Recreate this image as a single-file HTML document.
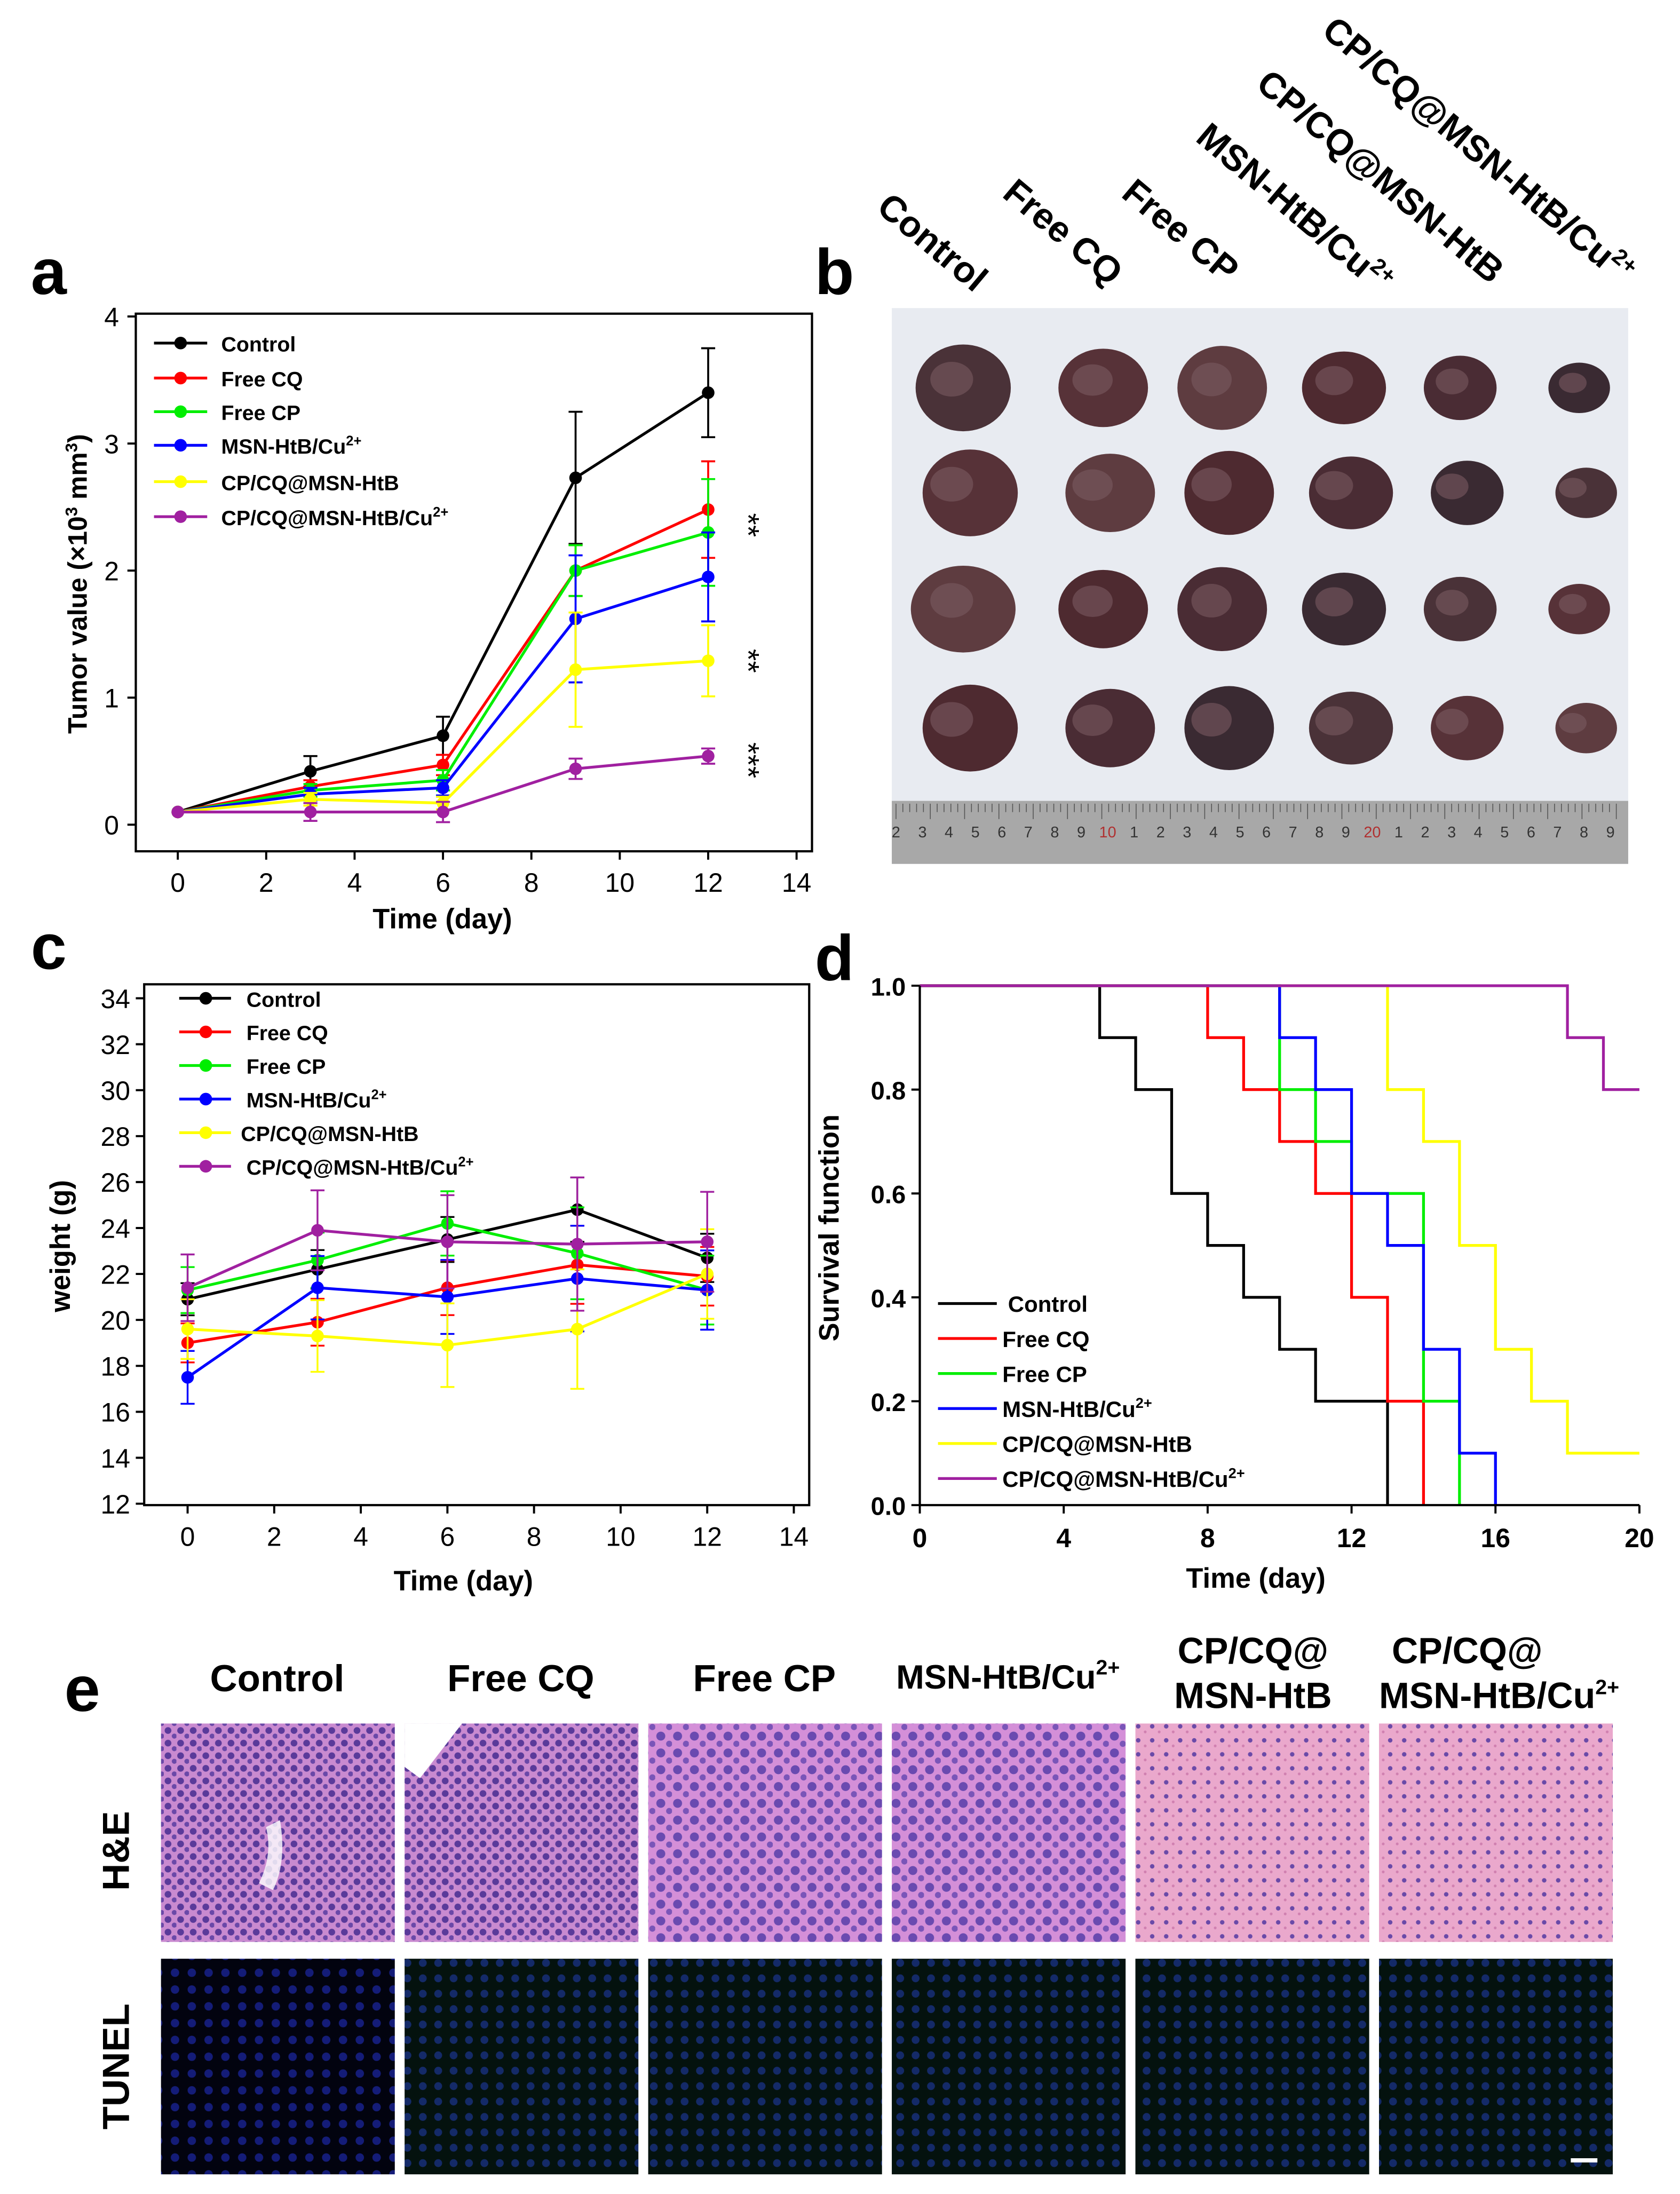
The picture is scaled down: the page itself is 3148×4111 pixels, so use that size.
<!DOCTYPE html>
<html><head><meta charset="utf-8">
<style>
html,body{margin:0;padding:0;background:#fff;}
svg{display:block;font-family:"Liberation Sans",Arial,sans-serif;}
</style></head>
<body>
<svg id="fig" width="3148" height="4111" viewBox="0 0 1200 1567" xmlns="http://www.w3.org/2000/svg">
<defs>
<pattern id="he1" width="9" height="9" patternUnits="userSpaceOnUse"><rect width="9" height="9" fill="#c98ad0"/><circle cx="3" cy="3" r="2.4" fill="#5a3a9a"/><circle cx="7.5" cy="7" r="1.8" fill="#6a48a8"/></pattern>
<pattern id="he2" width="12" height="12" patternUnits="userSpaceOnUse"><rect width="12" height="12" fill="#d48fd8"/><circle cx="4" cy="4" r="3.2" fill="#6a4ab0"/><circle cx="10" cy="9.5" r="2.2" fill="#7a55b8"/></pattern>
<pattern id="he3" width="10" height="10" patternUnits="userSpaceOnUse"><rect width="10" height="10" fill="#eaa8cc"/><circle cx="3" cy="3" r="1.6" fill="#6a4aa8"/><circle cx="8" cy="7" r="1" fill="#d080b0"/></pattern>
<pattern id="tn1" width="12" height="12" patternUnits="userSpaceOnUse"><rect width="12" height="12" fill="#02030f"/><circle cx="5" cy="5" r="3" fill="#141c78"/></pattern>
<pattern id="tn2" width="11" height="11" patternUnits="userSpaceOnUse"><rect width="11" height="11" fill="#04120e"/><circle cx="5" cy="5" r="2.8" fill="#142a68"/></pattern>
</defs>
</svg>
<script>
const NS='http://www.w3.org/2000/svg';
const svg=document.getElementById('fig');
function mk(tag,at,parent){const e=document.createElementNS(NS,tag);for(const k in at)e.setAttribute(k,at[k]);(parent||svg).appendChild(e);return e;}
function tx(s,x,y,size,parent,extra){const e=mk('text',Object.assign({x:x,y:y,'font-size':size,'font-weight':'bold',fill:'#000'},extra||{}),parent);e.textContent=s;return e;}

// ===== Panel a data =====
const aDays=[0,3,6,9,12];
const aNames=['Control','Free CQ','Free CP','MSN-HtB/Cu2+','CP/CQ@MSN-HtB','CP/CQ@MSN-HtB/Cu2+'];
const aColors=['#000000','#ff0000','#00ee00','#0000ff','#ffff00','#a020a0'];
const aControl=[0.1,0.42,0.7,2.73,3.4];
const aFreeCQ=[0.1,0.3,0.47,2.0,2.48];
const aFreeCP=[0.1,0.27,0.35,2.0,2.3];
const aMSN=[0.1,0.24,0.29,1.62,1.95];
const aCPCQ=[0.1,0.2,0.17,1.22,1.29];
const aFull=[0.1,0.1,0.1,0.44,0.54];
const aErrControl=[0,0.12,0.15,0.52,0.35];
const aErrFreeCQ=[0,0.05,0.08,0.2,0.38];
const aErrFreeCP=[0,0.05,0.08,0.2,0.42];
const aErrMSN=[0,0.05,0.06,0.5,0.35];
const aErrCPCQ=[0,0.05,0.05,0.45,0.28];
const aErrFull=[0,0.07,0.08,0.08,0.06];
const aYTicks=[0,1,2,3,4];
const aXTicks=[0,2,4,6,8,10,12,14];

// ===== Panel c data =====
const cControl=[20.9,22.2,23.5,24.8,22.7];
const cFreeCQ=[19.0,19.9,21.4,22.4,21.9];
const cFreeCP=[21.3,22.6,24.2,22.9,21.3];
const cMSN=[17.5,21.4,21.0,21.8,21.3];
const cCPCQ=[19.6,19.3,18.9,19.6,22.0];
const cFull=[21.4,23.9,23.4,23.3,23.4];
const cErr=[1.0,1.2,1.4,2.0,1.5];
const cYTicks=[12,14,16,18,20,22,24,26,28,30,32,34];

// ===== Panel d data (step times, survival) =====
const dControlT=[0,5,6,7,8,9,10,11,13];
const dControlS=[1,0.9,0.8,0.6,0.5,0.4,0.3,0.2,0];
const dFreeCQT=[0,8,9,10,11,12,13,14];
const dFreeCQS=[1,0.9,0.8,0.7,0.6,0.4,0.2,0];
const dFreeCPT=[0,10,11,12,14,15];
const dFreeCPS=[1,0.8,0.7,0.6,0.2,0];
const dMSNT=[0,10,11,12,13,14,15,16];
const dMSNS=[1,0.9,0.8,0.6,0.5,0.3,0.1,0];
const dCPCQT=[0,13,14,15,16,17,18,20];
const dCPCQS=[1,0.8,0.7,0.5,0.3,0.2,0.1,0.1];
const dFullT=[0,18,19,20];
const dFullS=[1,0.9,0.8,0.8];
const dXTicks=[0,4,8,12,16,20];
const dYTicks=[0,0.2,0.4,0.6,0.8,1.0];

function legendText(g,name,x,y,size){
  const t=mk('text',{x:x,y:y,'font-size':size,'font-weight':'bold'},g);
  if(name.endsWith('2+')){t.textContent=name.slice(0,-2);const s=mk('tspan',{'font-size':size*0.65,dy:-size*0.4},t);s.textContent='2+';}
  else t.textContent=name;
  return t;
}

// ---------- Panel a ----------
(function(){
const g=mk('g',{});


const L=97,R=580,T=226,B=608;
const X=d=>127+d*31.57, Y=v=>589-v*90.75;
const fr=mk('rect',{x:L,y:T-2,width:R-L,height:B-T+2,fill:'none',stroke:'#000','stroke-width':1.6},g);

aYTicks.forEach(v=>{mk('line',{x1:L,x2:L-6,y1:Y(v),y2:Y(v),stroke:'#000','stroke-width':1.5},g);
 const t=tx(String(v),L-12,Y(v)+7,19,g,{'text-anchor':'end','font-weight':'normal'});
 });
aXTicks.forEach(v=>{mk('line',{x1:X(v),x2:X(v),y1:B,y2:B+6,stroke:'#000','stroke-width':1.5},g);
 const t=tx(String(v),X(v),B+29,19,g,{'text-anchor':'middle','font-weight':'normal'});
 });
const xl=tx('Time (day)',316,663,20,g,{'text-anchor':'middle'});

const yl=mk('text',{x:0,y:0,'font-size':19,'font-weight':'bold','text-anchor':'middle',transform:'translate(62,417) rotate(-90)'},g);
yl.textContent='Tumor value (×10';const s1=mk('tspan',{'font-size':12,dy:-7},yl);s1.textContent='3';const s2=mk('tspan',{dy:7},yl);s2.textContent=' mm';const s3=mk('tspan',{'font-size':12,dy:-7},yl);s3.textContent='3';const s4=mk('tspan',{dy:7},yl);s4.textContent=')';

const series=[aControl,aFreeCQ,aFreeCP,aMSN,aCPCQ,aFull];
const errs=[aErrControl,aErrFreeCQ,aErrFreeCP,aErrMSN,aErrCPCQ,aErrFull];
series.forEach((s,i)=>{
 const sg=mk('g',{},g);
 
 
 s.forEach((v,j)=>{const e=errs[i][j];if(e>0){
  mk('line',{x1:X(aDays[j]),x2:X(aDays[j]),y1:Y(v-e),y2:Y(v+e),stroke:aColors[i],'stroke-width':1.4},sg);
  mk('line',{x1:X(aDays[j])-5,x2:X(aDays[j])+5,y1:Y(v+e),y2:Y(v+e),stroke:aColors[i],'stroke-width':1.4},sg);
  mk('line',{x1:X(aDays[j])-5,x2:X(aDays[j])+5,y1:Y(v-e),y2:Y(v-e),stroke:aColors[i],'stroke-width':1.4},sg);}});
 mk('polyline',{points:s.map((v,j)=>X(aDays[j])+','+Y(v)).join(' '),fill:'none',stroke:aColors[i],'stroke-width':2},sg);
 s.forEach((v,j)=>{const c=mk('circle',{cx:X(aDays[j]),cy:Y(v),r:4.5,fill:aColors[i]},sg);
  });
});
const lg=mk('g',{},g);
const ly=[245,270,294,318,344,369];
aNames.forEach((n,i)=>{mk('line',{x1:110,x2:148,y1:ly[i],y2:ly[i],stroke:aColors[i],'stroke-width':2},lg);
 mk('circle',{cx:129,cy:ly[i],r:4.5,fill:aColors[i]},lg);
 const t=legendText(lg,n,158,ly[i]+6,15);});
[['**',375],['**',472],['***',543]].forEach(a=>{const t=mk('text',{x:0,y:0,'font-size':22,'text-anchor':'middle',transform:'translate(527,'+a[1]+') rotate(90)'},g);t.textContent=a[0];
 });
})();

// ---------- Panel c ----------
(function(){
const g=mk('g',{});


const L=103,R=578,T=703,B=1075;
const X=d=>134+d*30.93, Y=v=>1074-(v-12)*16.41;
const fr=mk('rect',{x:L,y:T,width:R-L,height:B-T,fill:'none',stroke:'#000','stroke-width':1.6},g);

cYTicks.forEach(v=>{mk('line',{x1:L,x2:L-6,y1:Y(v),y2:Y(v),stroke:'#000','stroke-width':1.5},g);
 const t=tx(String(v),L-10,Y(v)+7,19,g,{'text-anchor':'end','font-weight':'normal'});
 });
aXTicks.forEach(v=>{mk('line',{x1:X(v),x2:X(v),y1:B,y2:B+6,stroke:'#000','stroke-width':1.5},g);
 const t=tx(String(v),X(v),B+29,19,g,{'text-anchor':'middle','font-weight':'normal'});
 });
const xl=tx('Time (day)',331,1136,20,g,{'text-anchor':'middle'});

const yl=tx('weight (g)',0,0,20,g,{'text-anchor':'middle',transform:'translate(50,890) rotate(-90)'});

const series=[cControl,cFreeCQ,cFreeCP,cMSN,cCPCQ,cFull];
series.forEach((s,i)=>{
 const sg=mk('g',{},g);
 
 
 s.forEach((v,j)=>{const e=cErr[j]*(0.7+0.15*i);
  mk('line',{x1:X(aDays[j]),x2:X(aDays[j]),y1:Y(v-e),y2:Y(v+e),stroke:aColors[i],'stroke-width':1.3},sg);
  mk('line',{x1:X(aDays[j])-5,x2:X(aDays[j])+5,y1:Y(v+e),y2:Y(v+e),stroke:aColors[i],'stroke-width':1.3},sg);
  mk('line',{x1:X(aDays[j])-5,x2:X(aDays[j])+5,y1:Y(v-e),y2:Y(v-e),stroke:aColors[i],'stroke-width':1.3},sg);});
 mk('polyline',{points:s.map((v,j)=>X(aDays[j])+','+Y(v)).join(' '),fill:'none',stroke:aColors[i],'stroke-width':2},sg);
 s.forEach((v,j)=>{const c=mk('circle',{cx:X(aDays[j]),cy:Y(v),r:4.5,fill:aColors[i]},sg);
  });
});
const lg=mk('g',{},g);
const ly=[713,737,761,785,809,833];
aNames.forEach((n,i)=>{mk('line',{x1:128,x2:165,y1:ly[i],y2:ly[i],stroke:aColors[i],'stroke-width':2},lg);
 mk('circle',{cx:147,cy:ly[i],r:4.5,fill:aColors[i]},lg);
 const t=legendText(lg,n,i===4?172:176,ly[i]+6,15);});
})();

// ---------- Panel d ----------
(function(){
const g=mk('g',{});


const L=657,R=1171,T=704,B=1075;
const X=d=>L+d*(R-L)/20, Y=v=>B-v*(B-T);
dYTicks.forEach(v=>{mk('line',{x1:L,x2:L-6,y1:Y(v),y2:Y(v),stroke:'#000','stroke-width':1.5},g);
 const t=tx(v.toFixed(1),L-10,Y(v)+7,18,g,{'text-anchor':'end','font-weight':'bold'});
 });
dXTicks.forEach(v=>{mk('line',{x1:X(v),x2:X(v),y1:B,y2:B+6,stroke:'#000','stroke-width':1.5},g);
 const t=tx(String(v),X(v),B+30,19,g,{'text-anchor':'middle'});
 });
const xl=tx('Time (day)',897,1134,20,g,{'text-anchor':'middle'});

const yl=tx('Survival function',0,0,20,g,{'text-anchor':'middle',transform:'translate(599,877) rotate(-90)'});

const Ts=[dControlT,dFreeCQT,dFreeCPT,dMSNT,dCPCQT,dFullT];
const Ss=[dControlS,dFreeCQS,dFreeCPS,dMSNS,dCPCQS,dFullS];
Ts.forEach((t,i)=>{
 let p=[];for(let k=0;k<t.length;k++){ if(k>0)p.push(X(t[k])+','+Y(Ss[i][k-1])); p.push(X(t[k])+','+Y(Ss[i][k])); }
 const pl=mk('polyline',{points:p.join(' '),fill:'none',stroke:aColors[i],'stroke-width':2},g);
 
 
});
mk('line',{x1:L,x2:L,y1:T,y2:B,stroke:'#000','stroke-width':1.6},g);
mk('line',{x1:L,x2:R,y1:B,y2:B,stroke:'#000','stroke-width':1.6},g);
const lg=mk('g',{},g);
const ly=[931,956,981,1006,1031,1056];
aNames.forEach((n,i)=>{mk('line',{x1:670,x2:712,y1:ly[i],y2:ly[i],stroke:aColors[i],'stroke-width':2},lg);
 const t=legendText(lg,n,i===0?720:716,ly[i]+6,16);});
})();

// ---------- Panel b (photo) ----------
(function(){
const g=mk('g',{});


mk('rect',{x:637,y:220,width:526,height:397,fill:'#e8ebf1'},g);
const ru=mk('rect',{x:637,y:572,width:526,height:45,fill:'#a8a8a8'},g);

const rn=['2','3','4','5','6','7','8','9','10','1','2','3','4','5','6','7','8','9','20','1','2','3','4','5','6','7','8','9'];
rn.forEach((n,i)=>{const x=640+i*18.9;const t=tx(n,x,598,11,g,{'font-weight':'normal',fill:(n==='10'||n==='20')?'#b03030':'#333','text-anchor':'middle'});});
for(let i=0;i<106;i++)mk('line',{x1:640+i*4.9,x2:640+i*4.9,y1:574,y2:i%5?580:585,stroke:'#555','stroke-width':0.6},g);
const cx=[690,790,875,962,1045,1130];
const ry=[277,352,435,520];
const sz=[[34,31],[32,28],[32,30],[30,26],[26,23],[22,18]];
const cols=['#4a3238','#573238','#5e3c40','#4e2a30','#4a2c34','#3a2a32'];
cx.forEach((x,i)=>ry.forEach((y,j)=>{
 const e=mk('ellipse',{cx:x+(j%2?3:-2),cy:y,rx:sz[i][0]*(j===2&&i===0?1.1:1),ry:sz[i][1],fill:cols[(i+j)%6]},g);
 
 mk('ellipse',{cx:x-sz[i][0]*0.3,cy:y-sz[i][1]*0.2,rx:sz[i][0]*0.45,ry:sz[i][1]*0.4,fill:'#7a5a60',opacity:0.6},g);
}));
const labels=[['Control',625,150],['Free CQ',715,140],['Free CP',800,140],['MSN-HtB/Cu',853,100,'2+'],['CP/CQ@MSN-HtB',896,62],['CP/CQ@MSN-HtB/Cu',943,24,'2+']];
labels.forEach(l=>{const t=mk('text',{x:0,y:0,'font-size':26,'font-weight':'bold',transform:'translate('+l[1]+','+l[2]+') rotate(40)'},g);
 t.textContent=l[0];if(l[3]){const s=mk('tspan',{'font-size':16,dy:-10},t);s.textContent=l[3];}
 });
})();

// ---------- Panel e ----------
(function(){
const g=mk('g',{});


const xs=[115,289,463,637,811,985];
const he=['he1','he1','he2','he2','he3','he3'];
const tn=['tn1','tn2','tn2','tn2','tn2','tn2'];
xs.forEach((x,i)=>{
 const a=mk('rect',{x:x,y:1231,width:167,height:156,fill:'url(#'+he[i]+')'},g);
 
 const b=mk('rect',{x:x,y:1399,width:167,height:154,fill:'url(#'+tn[i]+')'},g);
 
});
mk('path',{d:'M200 1300 Q205 1330 195 1350 L185 1345 Q195 1325 190 1305Z',fill:'#fff',opacity:0.8},g);
mk('path',{d:'M289 1231 L330 1231 L300 1270 L289 1262Z',fill:'#fff'},g);
const sb=mk('line',{x1:1122,x2:1141,y1:1543,y2:1543,stroke:'#fff','stroke-width':3},g);

const titles=[['Control',198,1208],['Free CQ',372,1208],['Free CP',546,1208]];
titles.forEach(t=>{const e=tx(t[0],t[1],t[2],27,g,{'text-anchor':'middle'});});
const m=mk('text',{x:720,y:1206,'font-size':24,'font-weight':'bold','text-anchor':'middle'},g);m.textContent='MSN-HtB/Cu';const ms=mk('tspan',{'font-size':15,dy:-10},m);ms.textContent='2+';

const c1=tx('CP/CQ@',895,1188,26,g,{'text-anchor':'middle'});
const c2=tx('MSN-HtB',895,1220,26,g,{'text-anchor':'middle'});
const c3=tx('CP/CQ@',1048,1188,26,g,{'text-anchor':'middle'});
const c4=mk('text',{x:985,y:1220,'font-size':26,'font-weight':'bold'},g);c4.textContent='MSN-HtB/Cu';const c4s=mk('tspan',{'font-size':15,dy:-10},c4);c4s.textContent='2+';

const r1=tx('H&E',0,0,27,g,{'text-anchor':'middle',transform:'translate(92,1322) rotate(-90)'});
const r2=tx('TUNEL',0,0,27,g,{'text-anchor':'middle',transform:'translate(92,1476) rotate(-90)'});
})();

// panel letters
[['a',22,210],['b',582,210],['c',22,692],['d',582,700],['e',46,1222]].forEach(l=>{
 const t=tx(l[0],l[1],l[2],46,svg);
 
 
});
</script>
</body></html>
